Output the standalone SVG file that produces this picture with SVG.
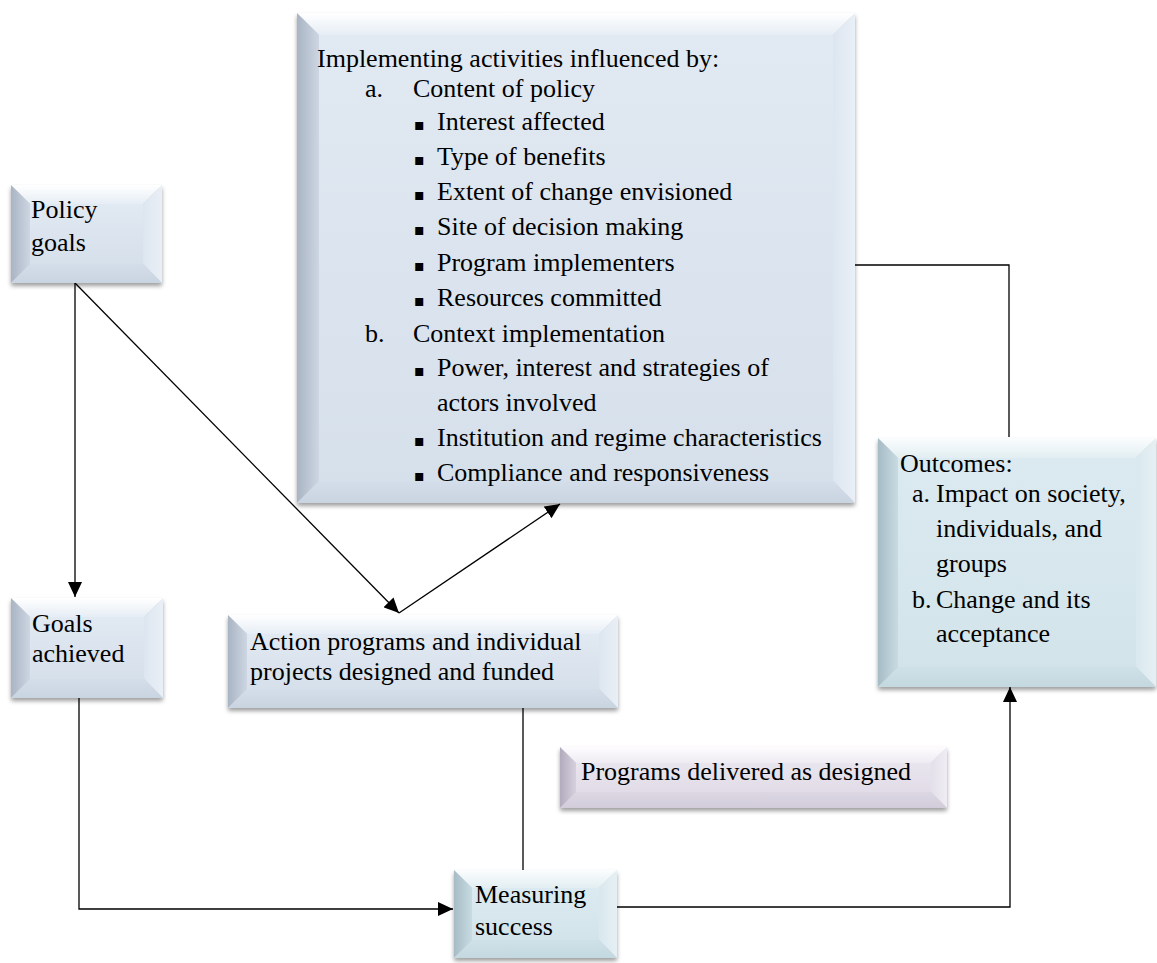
<svg xmlns="http://www.w3.org/2000/svg" width="1157" height="963" viewBox="0 0 1157 963">
  <defs>
    <style>
      .t { font-family: "Liberation Serif", "Times New Roman", serif; font-size: 26px; fill: #000; }
      .bul { font-family: "DejaVu Sans", sans-serif; font-size: 16px; fill: #000; }
      .conn { fill: none; stroke: #000; stroke-width: 1.3; }
      .box { filter: url(#shadow); }
      .blue .face { fill: url(#bFace); }
      .blue .top { fill: url(#bTop); }
      .blue .left { fill: url(#bLeft); }
      .blue .right { fill: url(#bRight); }
      .blue .bottom { fill: url(#bBottom); }
      .teal .face { fill: url(#tFace); }
      .teal .top { fill: url(#tTop); }
      .teal .left { fill: url(#tLeft); }
      .teal .right { fill: url(#tRight); }
      .teal .bottom { fill: url(#tBottom); }
      .lav .face { fill: url(#lFace); }
      .lav .top { fill: url(#lTop); }
      .lav .left { fill: url(#lLeft); }
      .lav .right { fill: url(#lRight); }
      .lav .bottom { fill: url(#lBottom); }
    </style>
    <filter id="shadow" x="-5%" y="-5%" width="110%" height="115%">
      <feDropShadow dx="0" dy="3" stdDeviation="2.2" flood-color="#000" flood-opacity="0.38"/>
    </filter>
    <marker id="arrow" markerUnits="userSpaceOnUse" markerWidth="15" markerHeight="14" refX="15" refY="7" orient="auto">
      <path d="M0,0 L15,7 L0,14 z" fill="#000"/>
    </marker>
    <!-- blue bevel -->
    <linearGradient id="bFace" x1="0" y1="0" x2="0" y2="1"><stop offset="0" stop-color="#e1e9f2"/><stop offset="1" stop-color="#d6e0eb"/></linearGradient>
    <linearGradient id="bTop" x1="0" y1="0" x2="0" y2="1"><stop offset="0" stop-color="#ffffff"/><stop offset="1" stop-color="#e6edf5"/></linearGradient>
    <linearGradient id="bLeft" x1="0" y1="0" x2="1" y2="0"><stop offset="0" stop-color="#a9b4c4"/><stop offset="1" stop-color="#cdd6e2"/></linearGradient>
    <linearGradient id="bRight" x1="0" y1="0" x2="1" y2="0"><stop offset="0" stop-color="#dde6f0"/><stop offset="1" stop-color="#e9eff6"/></linearGradient>
    <linearGradient id="bBottom" x1="0" y1="0" x2="0" y2="1"><stop offset="0" stop-color="#d4deea"/><stop offset="1" stop-color="#c9d4e1"/></linearGradient>
    <!-- teal bevel -->
    <linearGradient id="tFace" x1="0" y1="0" x2="0" y2="1"><stop offset="0" stop-color="#dbeaf0"/><stop offset="1" stop-color="#d2e4ea"/></linearGradient>
    <linearGradient id="tTop" x1="0" y1="0" x2="0" y2="1"><stop offset="0" stop-color="#fbfdfe"/><stop offset="1" stop-color="#e2eef2"/></linearGradient>
    <linearGradient id="tLeft" x1="0" y1="0" x2="1" y2="0"><stop offset="0" stop-color="#a6bcc6"/><stop offset="1" stop-color="#c8dbe2"/></linearGradient>
    <linearGradient id="tRight" x1="0" y1="0" x2="1" y2="0"><stop offset="0" stop-color="#d9e8ee"/><stop offset="1" stop-color="#e6f0f4"/></linearGradient>
    <linearGradient id="tBottom" x1="0" y1="0" x2="0" y2="1"><stop offset="0" stop-color="#cfe1e8"/><stop offset="1" stop-color="#c4d8e0"/></linearGradient>
    <!-- lavender bevel -->
    <linearGradient id="lFace" x1="0" y1="0" x2="0" y2="1"><stop offset="0" stop-color="#e9e5ee"/><stop offset="1" stop-color="#e1dce7"/></linearGradient>
    <linearGradient id="lTop" x1="0" y1="0" x2="0" y2="1"><stop offset="0" stop-color="#fdfcfe"/><stop offset="1" stop-color="#eeebf2"/></linearGradient>
    <linearGradient id="lLeft" x1="0" y1="0" x2="1" y2="0"><stop offset="0" stop-color="#b2abbd"/><stop offset="1" stop-color="#d6d0de"/></linearGradient>
    <linearGradient id="lRight" x1="0" y1="0" x2="1" y2="0"><stop offset="0" stop-color="#e4e0ea"/><stop offset="1" stop-color="#efecf3"/></linearGradient>
    <linearGradient id="lBottom" x1="0" y1="0" x2="0" y2="1"><stop offset="0" stop-color="#dcd7e3"/><stop offset="1" stop-color="#d2ccda"/></linearGradient>
  </defs>

  <rect width="1157" height="963" fill="#fff"/>

  <!-- connectors -->
  <g id="connectors">
    <path class="conn" d="M75,283 V597" marker-end="url(#arrow)"/>
    <path class="conn" d="M75,283 L399,613" marker-end="url(#arrow)"/>
    <path class="conn" d="M399,613 L560,504" marker-end="url(#arrow)"/>
    <path class="conn" d="M855,265 H1009 V437"/>
    <path class="conn" d="M79,698 V909 H453" marker-end="url(#arrow)"/>
    <path class="conn" d="M523,708 V870"/>
    <path class="conn" d="M617,907 H1010 V687" marker-end="url(#arrow)"/>
  </g>

  <!-- Policy goals: x11 y185 w151 h98 b19 -->
  <g id="policy-goals" class="blue">
    <g class="box">
      <rect class="face" x="30" y="204" width="113" height="60"/>
      <polygon class="top" points="11,185 162,185 143,204 30,204"/>
      <polygon class="left" points="11,185 30,204 30,264 11,283"/>
      <polygon class="right" points="162,185 162,283 143,264 143,204"/>
      <polygon class="bottom" points="11,283 30,264 143,264 162,283"/>
    </g>
    <text class="t" x="31" y="218">Policy</text>
    <text class="t" x="31" y="251">goals</text>
  </g>

  <!-- Goals achieved: x11 y598 w152 h100 b19 -->
  <g id="goals-achieved" class="blue">
    <g class="box">
      <rect class="face" x="30" y="617" width="114" height="62"/>
      <polygon class="top" points="11,598 163,598 144,617 30,617"/>
      <polygon class="left" points="11,598 30,617 30,679 11,698"/>
      <polygon class="right" points="163,598 163,698 144,679 144,617"/>
      <polygon class="bottom" points="11,698 30,679 144,679 163,698"/>
    </g>
    <text class="t" x="32" y="632">Goals</text>
    <text class="t" x="32" y="662">achieved</text>
  </g>

  <!-- Implementing activities: x297 y13 w558 h490 b22 -->
  <g id="implementing-activities" class="blue">
    <g class="box">
      <rect class="face" x="319" y="35" width="514" height="446"/>
      <polygon class="top" points="297,13 855,13 833,35 319,35"/>
      <polygon class="left" points="297,13 319,35 319,481 297,503"/>
      <polygon class="right" points="855,13 855,503 833,481 833,35"/>
      <polygon class="bottom" points="297,503 319,481 833,481 855,503"/>
    </g>
    <text class="t" x="317" y="67">Implementing activities influenced by:</text>
    <text class="t" x="365" y="97">a.</text>
    <text class="t" x="413" y="97">Content of policy</text>
    <text class="bul" x="414" y="130">▪</text><text class="t" x="437" y="130">Interest affected</text>
    <text class="bul" x="414" y="165">▪</text><text class="t" x="437" y="165">Type of benefits</text>
    <text class="bul" x="414" y="200">▪</text><text class="t" x="437" y="200">Extent of change envisioned</text>
    <text class="bul" x="414" y="235">▪</text><text class="t" x="437" y="235">Site of decision making</text>
    <text class="bul" x="414" y="271">▪</text><text class="t" x="437" y="271">Program implementers</text>
    <text class="bul" x="414" y="306">▪</text><text class="t" x="437" y="306">Resources committed</text>
    <text class="t" x="365" y="342">b.</text>
    <text class="t" x="413" y="342">Context implementation</text>
    <text class="bul" x="414" y="376">▪</text><text class="t" x="437" y="376">Power, interest and strategies of</text>
    <text class="t" x="437" y="411">actors involved</text>
    <text class="bul" x="414" y="446">▪</text><text class="t" x="437" y="446">Institution and regime characteristics</text>
    <text class="bul" x="414" y="481">▪</text><text class="t" x="437" y="481">Compliance and responsiveness</text>
  </g>

  <!-- Action programs: x228 y615 w390 h93 b19 -->
  <g id="action-programs" class="blue">
    <g class="box">
      <rect class="face" x="247" y="634" width="352" height="55"/>
      <polygon class="top" points="228,615 618,615 599,634 247,634"/>
      <polygon class="left" points="228,615 247,634 247,689 228,708"/>
      <polygon class="right" points="618,615 618,708 599,689 599,634"/>
      <polygon class="bottom" points="228,708 247,689 599,689 618,708"/>
    </g>
    <text class="t" x="250" y="650">Action programs and individual</text>
    <text class="t" x="250" y="680">projects designed and funded</text>
  </g>

  <!-- Outcomes: x878 y438 w278 h249 b20 -->
  <g id="outcomes" class="teal">
    <g class="box">
      <rect class="face" x="898" y="458" width="238" height="209"/>
      <polygon class="top" points="878,438 1156,438 1136,458 898,458"/>
      <polygon class="left" points="878,438 898,458 898,667 878,687"/>
      <polygon class="right" points="1156,438 1156,687 1136,667 1136,458"/>
      <polygon class="bottom" points="878,687 898,667 1136,667 1156,687"/>
    </g>
    <text class="t" x="900" y="472">Outcomes:</text>
    <text class="t" x="912" y="502">a.</text>
    <text class="t" x="936" y="502">Impact on society,</text>
    <text class="t" x="936" y="537">individuals, and</text>
    <text class="t" x="936" y="572">groups</text>
    <text class="t" x="912" y="608">b.</text>
    <text class="t" x="936" y="608">Change and its</text>
    <text class="t" x="936" y="642">acceptance</text>
  </g>

  <!-- Programs delivered: x560 y747 w387 h61 b16 -->
  <g id="programs-delivered" class="lav">
    <g class="box">
      <rect class="face" x="576" y="763" width="355" height="29"/>
      <polygon class="top" points="560,747 947,747 931,763 576,763"/>
      <polygon class="left" points="560,747 576,763 576,792 560,808"/>
      <polygon class="right" points="947,747 947,808 931,792 931,763"/>
      <polygon class="bottom" points="560,808 576,792 931,792 947,808"/>
    </g>
    <text class="t" x="581" y="780">Programs delivered as designed</text>
  </g>

  <!-- Measuring success: x454 y870 w163 h88 b18 -->
  <g id="measuring-success" class="teal">
    <g class="box">
      <rect class="face" x="472" y="888" width="127" height="52"/>
      <polygon class="top" points="454,870 617,870 599,888 472,888"/>
      <polygon class="left" points="454,870 472,888 472,940 454,958"/>
      <polygon class="right" points="617,870 617,958 599,940 599,888"/>
      <polygon class="bottom" points="454,958 472,940 599,940 617,958"/>
    </g>
    <text class="t" x="475" y="903">Measuring</text>
    <text class="t" x="475" y="935">success</text>
  </g>
</svg>
